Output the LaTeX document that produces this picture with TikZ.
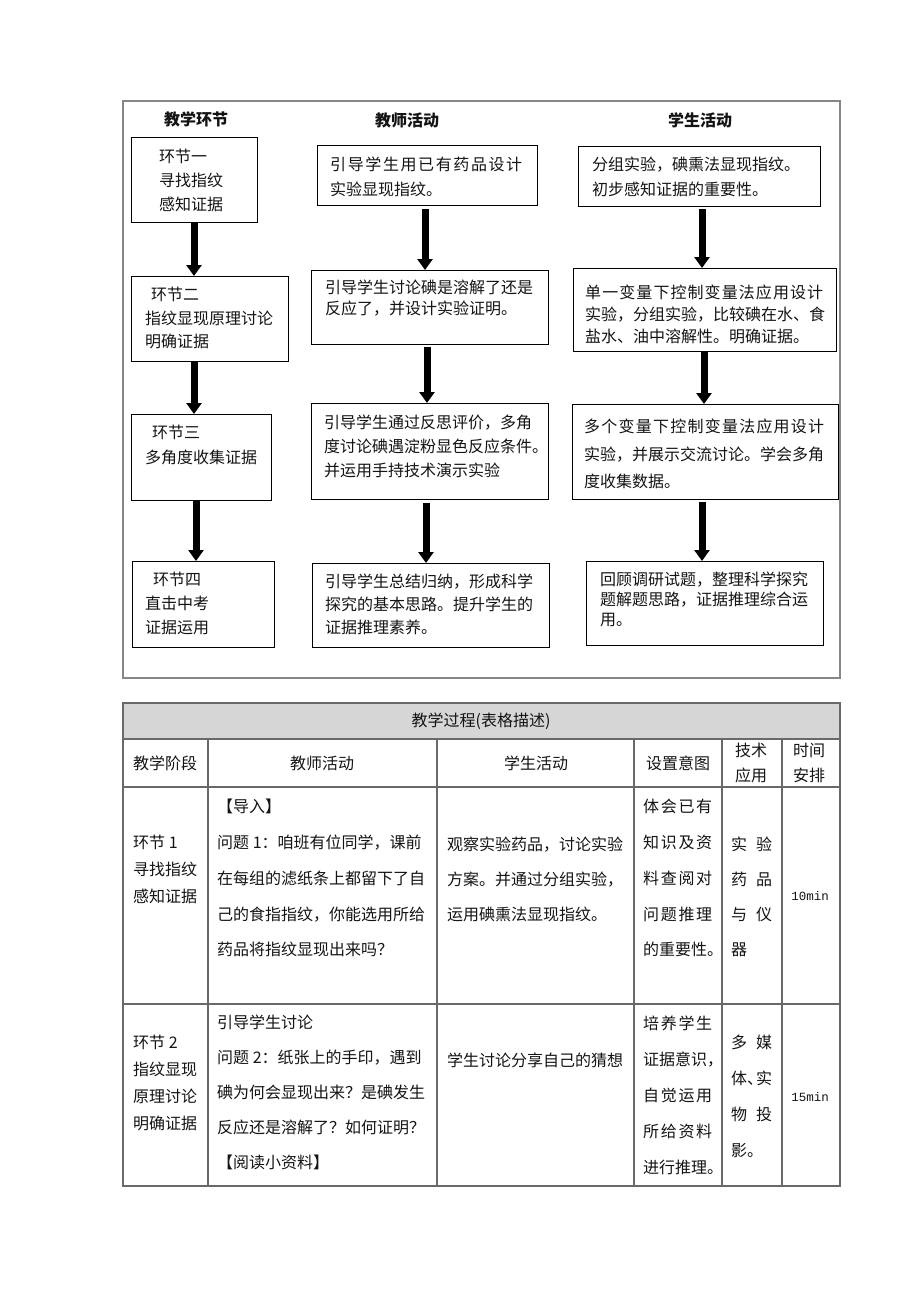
\documentclass[tikz,border=0pt]{standalone}
\usepackage{fontspec}
\setmainfont{Noto Sans CJK SC}
\newfontfamily\monof{Liberation Mono}
\usepackage{graphicx}
\usetikzlibrary{arrows.meta}
\ExplSyntaxOn
\NewDocumentCommand\spreadto{m m}{\makebox[#1][s]{\tl_map_inline:nn{#2}{##1\hfil}\unskip}}
\ExplSyntaxOff
\newcommand\vs{\rule[-0.12em]{0pt}{1em}}
\definecolor{tgray}{RGB}{105,105,105}
\definecolor{fgray}{RGB}{135,135,135}
\definecolor{band}{RGB}{214,214,214}
\definecolor{ink}{RGB}{20,20,20}
\tikzset{
  fbox/.style={draw=black, line width=1.3pt, inner sep=0pt, anchor=north west},
  ftxt/.style={align=left, anchor=west, inner sep=0pt, text=ink,
    font=\fontsize{16}{#1}\selectfont,
    execute at begin node=\vs, execute at end node=\vs},
  ftxt/.default=24,
  farrow/.style={line width=7pt, -{Triangle[length=11pt,width=15pt]}},
  fhead/.style={inner sep=0pt, text=ink, font=\bfseries\fontsize{16}{16}\selectfont},
  tline/.style={draw=tgray, line width=1.1pt},
  ttxt/.style={inner sep=0pt, text=ink, font=\fontsize{16}{16}\selectfont},
  tmono/.style={inner sep=0pt, text=ink, font=\monof\fontsize{12.5}{12.5}\selectfont},
  tcell/.style={align=left, anchor=west, inner sep=0pt, text=ink,
    font=\fontsize{16}{#1}\selectfont,
    execute at begin node=\vs, execute at end node=\vs},
  tcell/.default=35,
}
\begin{document}
\begin{tikzpicture}[x=1pt,y=-1pt]
\useasboundingbox (0,0) rectangle (920,1302);
\fill[white] (0,0) rectangle (920,1302);

% ---------- flowchart frame ----------
\draw[fgray, line width=1.3pt] (123,101) rectangle (840,678);

\node[fhead] (H1) at (196,119) {教学环节};
\node[fhead] (H2) at (407,120) {教师活动};
\node[fhead] (H3) at (700,120) {学生活动};

% left column
\node[fbox, minimum width=126pt, minimum height=85pt] (L1) at (131,137) {};
\node[ftxt=24] (L1t) at (159,181) {环节一\\寻找指纹\\感知证据};
\node[fbox, minimum width=157pt, minimum height=85pt] (L2) at (131,276) {};
\node[ftxt=23.5] (L2t) at (145,318.5) {\hspace*{6pt}环节二\\指纹显现原理讨论\\明确证据};
\node[fbox, minimum width=140pt, minimum height=86pt] (L3) at (131,414) {};
\node[ftxt=25] (L3t) at (145,445.5) {\hspace*{7pt}环节三\\多角度收集证据};
\node[fbox, minimum width=142pt, minimum height=86pt] (L4) at (132,561) {};
\node[ftxt=24] (L4t) at (145,604) {\hspace*{8pt}环节四\\直击中考\\证据运用};

% middle column
\node[fbox, minimum width=220pt, minimum height=60pt] (M1) at (317,145) {};
\node[ftxt=25] (M1t) at (330,177.5) {\spreadto{192pt}{引导学生用已有药品设计}\\实验显现指纹。};
\node[fbox, minimum width=237pt, minimum height=74pt] (M2) at (311,270) {};
\node[ftxt=20.5] (M2t) at (325,298) {引导学生讨论碘是溶解了还是\\反应了，并设计实验证明。};
\node[fbox, minimum width=237pt, minimum height=96pt] (M3) at (311,403) {};
\node[ftxt=24] (M3t) at (324,447) {引导学生通过反思评价，多角\\度讨论碘遇淀粉显色反应条件。\\并运用手持技术演示实验};
\node[fbox, minimum width=237pt, minimum height=84pt] (M4) at (312,563) {};
\node[ftxt=23] (M4t) at (325,605) {引导学生总结归纳，形成科学\\探究的基本思路。提升学生的\\证据推理素养。};

% right column
\node[fbox, minimum width=242pt, minimum height=60pt] (R1) at (578,146) {};
\node[ftxt=25] (R1t) at (592,177.5) {分组实验，碘熏法显现指纹。\\初步感知证据的重要性。};
\node[fbox, minimum width=263pt, minimum height=83pt] (R2) at (573,268) {};
\node[ftxt=22] (R2t) at (585,315) {\spreadto{238pt}{单一变量下控制变量法应用设计}\\实验，分组实验，比较碘在水、食\\盐水、油中溶解性。明确证据。};
\node[fbox, minimum width=266pt, minimum height=95pt] (R3) at (572,404) {};
\node[ftxt=27.5] (R3t) at (584,454.5) {\spreadto{240pt}{多个变量下控制变量法应用设计}\\实验，并展示交流讨论。学会多角\\度收集数据。};
\node[fbox, minimum width=237pt, minimum height=84pt] (R4) at (586,561) {};
\node[ftxt=20] (R4t) at (600,600) {回顾调研试题，整理科学探究\\题解题思路，证据推理综合运\\用。};

% arrows
\draw[farrow] (L1.south -| 194,0) -- (L2.north -| 194,0);
\draw[farrow] (L2.south -| 194,0) -- (L3.north -| 194,0);
\draw[farrow] (L3.south -| 196,0) -- (L4.north -| 196,0);
\draw[farrow] ([yshift=-3pt]M1.south -| 425,0) -- (M2.north -| 425,0);
\draw[farrow] ([yshift=-2pt]M2.south -| 427,0) -- (M3.north -| 427,0);
\draw[farrow] ([yshift=-3pt]M3.south -| 426,0) -- (M4.north -| 426,0);
\draw[farrow] ([yshift=-2pt]R1.south -| 702,0) -- (R2.north -| 702,0);
\draw[farrow] (R2.south -| 704,0) -- (R3.north -| 704,0);
\draw[farrow] ([yshift=-2pt]R3.south -| 702,0) -- (R4.north -| 702,0);

% ---------- table ----------
\fill[band] (123,703) rectangle (840,739);
\draw[tline] (123,739) -- (840,739);
\draw[tline] (123,787) -- (840,787);
\draw[tline] (123,1004) -- (840,1004);
\foreach \cx in {208,437,634,722,782} {\draw[tline] (\cx,739) -- (\cx,1186);}
\draw[tline] (123,703) rectangle (840,1186);

\node[ttxt] (T0) at (481,721) {教学过程(表格描述)};
\node[ttxt] (C1) at (165,763) {教学阶段};
\node[ttxt] (C2) at (322,763) {教师活动};
\node[ttxt] (C3) at (536,763) {学生活动};
\node[ttxt] (C4) at (678,763) {设置意图};
\node[ttxt, align=center, font=\fontsize{16}{25}\selectfont] (C5) at (751,763) {技术\\应用};
\node[ttxt, align=center, font=\fontsize{16}{25}\selectfont] (C6) at (809,763) {时间\\安排};

% row 1
\node[tcell=27] (A1) at (133,870) {环节 1\\寻找指纹\\感知证据};
\node[tcell=35.75] (A2) at (217,878.5) {【导入】\\问题 1：咱班有位同学，课前\\在每组的滤纸条上都留下了自\\己的食指指纹，你能选用所给\\药品将指纹显现出来吗？};
\node[tcell=35] (A3) at (447,880) {观察实验药品，讨论实验\\方案。并通过分组实验，\\运用碘熏法显现指纹。};
\node[tcell=35.75] (A4) at (643,878.5) {\spreadto{69pt}{体会已有}\\\spreadto{69pt}{知识及资}\\\spreadto{69pt}{料查阅对}\\\spreadto{69pt}{问题推理}\\的重要性。};
\node[tcell=35] (A5) at (731,897.5) {\spreadto{41pt}{实验}\\\spreadto{41pt}{药品}\\\spreadto{41pt}{与仪}\\器};
\node[tmono] (A6) at (810,896) {10min};

% row 2
\node[tcell=27] (B1) at (133,1083) {环节 2\\指纹显现\\原理讨论\\明确证据};
\node[tcell=35] (B2) at (217,1093) {引导学生讨论\\问题 2：纸张上的手印，遇到\\碘为何会显现出来？是碘发生\\反应还是溶解了？如何证明？\\【阅读小资料】};
\node[tcell] (B3) at (447,1060) {学生讨论分享自己的猜想};
\node[tcell=36] (B4) at (643,1096) {\spreadto{69pt}{培养学生}\\证据意识，\\\spreadto{69pt}{自觉运用}\\\spreadto{69pt}{所给资料}\\进行推理。};
\node[tcell=36] (B5) at (731,1096.5) {\spreadto{41pt}{多媒}\\体\makebox[9pt][l]{、}实\\\spreadto{41pt}{物投}\\影。};
\node[tmono] (B6) at (810,1097) {15min};
\end{tikzpicture}
\end{document}
